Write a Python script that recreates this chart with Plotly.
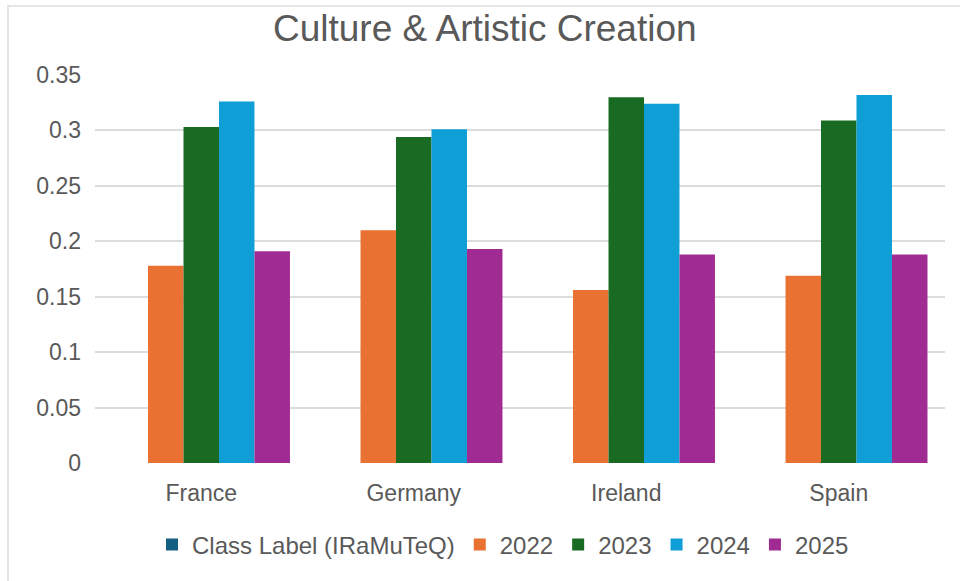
import plotly.graph_objects as go

countries = ["France", "Germany", "Ireland", "Spain"]
series_names = ["Class Label (IRaMuTeQ)", "2022", "2023", "2024", "2025"]
class_label = [None, None, None, None]
v2022 = [0.178, 0.210, 0.156, 0.169]
v2023 = [0.303, 0.294, 0.330, 0.309]
v2024 = [0.326, 0.301, 0.324, 0.332]
v2025 = [0.191, 0.193, 0.188, 0.188]
colors = ["#156082", "#E97132", "#196B24", "#0F9ED5", "#A02B93"]

fig = go.Figure()
for name, vals, col in zip(series_names, [class_label, v2022, v2023, v2024, v2025], colors):
    fig.add_trace(go.Bar(x=countries, y=vals, name=name, marker=dict(color=col, line=dict(width=0))))

txt = "#595959"
fig.update_layout(
    width=960, height=581,
    margin=dict(l=95, r=15, t=75, b=118),
    paper_bgcolor="white", plot_bgcolor="white",
    font=dict(family="Liberation Sans, Arial, sans-serif", color=txt, size=22),
    title=dict(text="Culture & Artistic Creation", x=0.505, xanchor="center",
               y=1 - 28 / 581, yanchor="middle", font=dict(size=37, color=txt)),
    barmode="group", bargap=0.165, bargroupgap=0,
    showlegend=True,
    legend=dict(orientation="h", x=0.48, xanchor="center", y=-0.211, yanchor="middle",
                font=dict(size=24, color=txt), itemwidth=30, traceorder="normal"),
    xaxis=dict(showgrid=False, showline=False, zeroline=False, ticks="",
               ticklabelstandoff=14, tickfont=dict(size=23, color=txt)),
    yaxis=dict(range=[0, 0.35], dtick=0.05, tickformat="~g", showgrid=True,
               gridcolor="#DCDCDC", gridwidth=1.5, zeroline=False, showline=False,
               ticks="", ticklabelstandoff=13, tickfont=dict(size=23, color=txt)),
    shapes=[dict(type="rect", xref="paper", yref="paper",
                 x0=(8 - 95) / 850, x1=1.3, y0=-0.6, y1=(463 - 6) / 388,
                 line=dict(color="#E6E6E6", width=2), fillcolor="rgba(0,0,0,0)", layer="below")],
)

fig.write_html("out.html")
